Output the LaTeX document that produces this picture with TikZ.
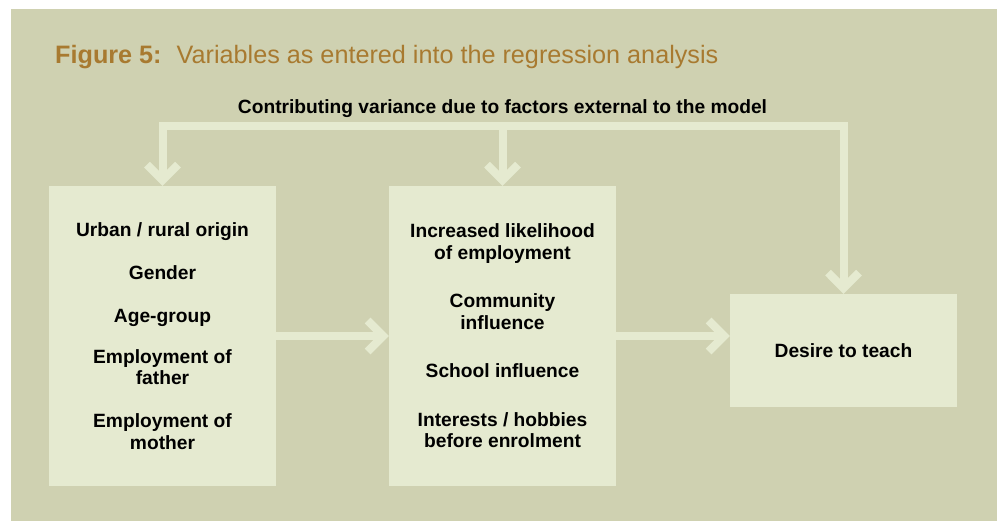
\documentclass[tikz,border=0pt]{standalone}
\usepackage{fontspec}
\setmainfont{Liberation Sans}
\usetikzlibrary{calc}
\definecolor{bgc}{RGB}{207,209,177}
\definecolor{boxc}{RGB}{229,234,208}
\definecolor{titlec}{RGB}{168,122,48}
\begin{document}
\begin{tikzpicture}[x=1pt,y=-1pt,
  box/.style={fill=boxc, draw=none, inner sep=0pt, align=center,
    font=\bfseries\fontsize{19.2}{21.5}\selectfont},
  conn/.style={draw=boxc, line width=8pt, line join=miter, line cap=butt},
  chev/.style={draw=boxc, line width=8pt, line join=miter, line cap=butt},
]
\useasboundingbox (0,0) rectangle (1000,521);
\fill[white] (0,0) rectangle (1000,521);
\fill[bgc] (11,9) rectangle (997,521);
\node[anchor=base west, inner sep=0pt, text=titlec, font=\fontsize{25.2}{28}\selectfont] (title) at (55,63.5)
  {\textbf{Figure 5:}\hspace{0.6em}Variables as entered into the regression analysis};
\node[anchor=base, inner sep=0pt, font=\bfseries\fontsize{19.2}{21}\selectfont] (ext) at (502.5,114)
  {Contributing variance due to factors external to the model};
\node[box, minimum width=227pt, minimum height=300pt] (left) at (162.5,336)
  {Urban / rural origin\\[21.5pt]Gender\\[21.5pt]Age-group\\[19.5pt]Employment of\\father\\[21.5pt]Employment of\\mother};
\node[box, minimum width=227pt, minimum height=300pt] (mid) at (502.5,336)
  {Increased likelihood\\of employment\\[27pt]Community\\influence\\[27pt]School influence\\[27pt]Interests / hobbies\\before enrolment};
\node[box, minimum width=227pt, minimum height=113pt] (out) at (843.5,350.5)
  {Desire to teach};
\coordinate (topy) at (0,126);
% feedback connector from external factors
\draw[conn] ($(left.north)+(0,-5)$) -- (left.north |- topy) -- (out.north |- topy) -- ($(out.north)+(0,-5)$);
\draw[conn] (mid.north |- topy) -- ($(mid.north)+(0,-5)$);
\foreach \n in {left,mid,out}{
  \draw[chev] ($(\n.north)+(-15.5,-21.2)$) -- ($(\n.north)+(0,-5.66)$) -- ($(\n.north)+(15.5,-21.2)$);
}
% forward connectors
\draw[conn, shorten >=5pt] (left.east) -- (mid.west);
\draw[chev] ($(mid.west)+(-21.2,-15.5)$) -- ($(mid.west)+(-5.66,0)$) -- ($(mid.west)+(-21.2,15.5)$);
\coordinate (outin) at (mid.east -| out.west);
\draw[conn, shorten >=5pt] (mid.east) -- (outin);
\draw[chev] ($(outin)+(-21.2,-15.5)$) -- ($(outin)+(-5.66,0)$) -- ($(outin)+(-21.2,15.5)$);
\end{tikzpicture}
\end{document}
